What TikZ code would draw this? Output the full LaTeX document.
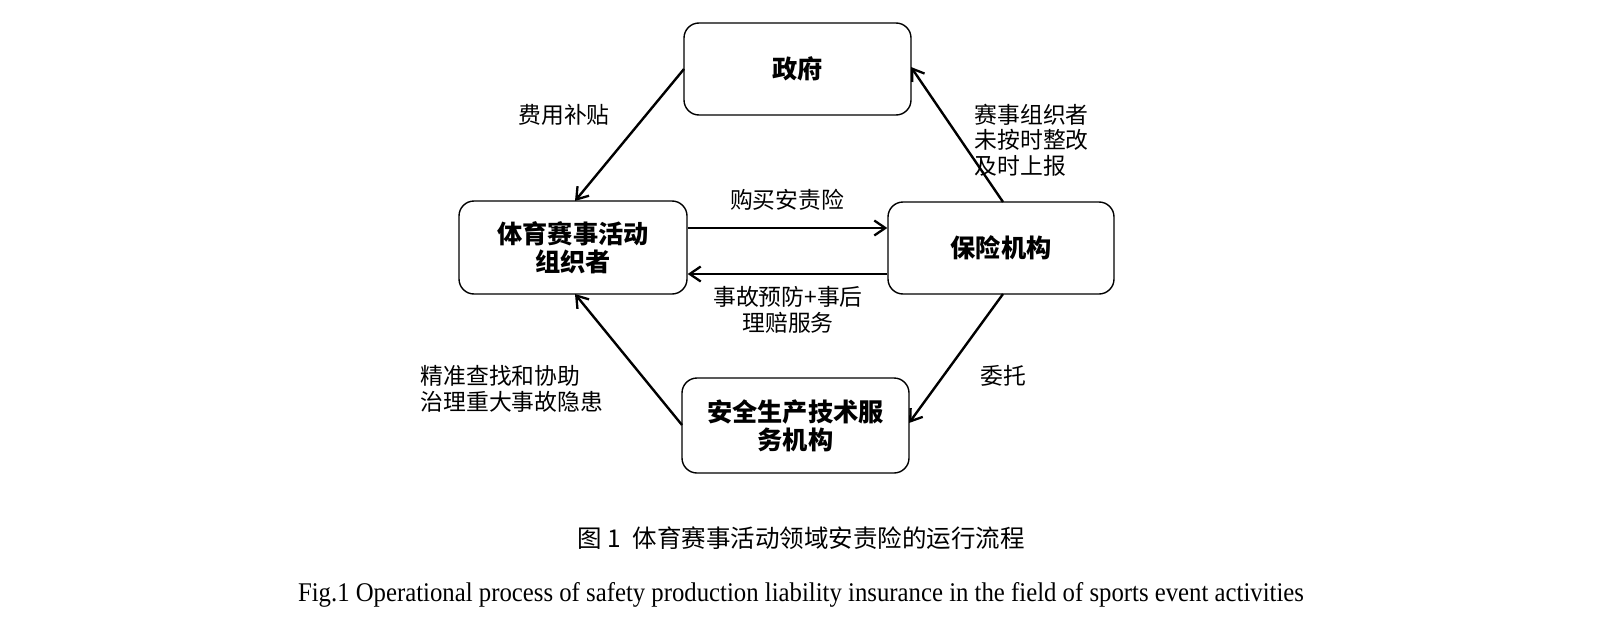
\documentclass[tikz,border=0pt]{standalone}
\usepackage{fontspec}
\setmainfont{Liberation Serif}
\newfontfamily\cjk{Noto Sans CJK SC}
\usetikzlibrary{arrows.meta}
\begin{document}
\begin{tikzpicture}[x=1pt,y=-1pt,
  box/.style={draw, line width=1.4pt, rounded corners=15pt, minimum width=227pt, minimum height=92pt, align=center, font=\cjk\fontsize{25.2}{28}\selectfont\bfseries, inner sep=0pt},
  conn/.style={line width=2.4pt, -{Straight Barb[length=11pt,width=15pt,line width=2.3pt]}},
  lab/.style={font=\cjk\fontsize{22.8}{25.5}\selectfont, inner sep=0pt, align=left}]
\useasboundingbox (0,0) rectangle (1600,634);
\fill[white] (0,0) rectangle (1600,634);
\node[box] (gov) at (797.5,69) {政府};
\node[box, minimum width=228pt, minimum height=93pt] (org) at (573,247.5) {体育赛事活动\\组织者};
\node[box, minimum width=226pt] (ins) at (1001,248) {保险机构};
\node[box, minimum height=95pt] (srv) at (795.5,425.5) {安全生产技术服\\务机构};
\coordinate (govL) at (684,69);
\coordinate (govR) at (911,67);
\coordinate (orgT) at (575,201);
\coordinate (orgB) at (575,294);
\coordinate (insT) at (1003,202);
\coordinate (insB) at (1003,294);
\coordinate (srvL) at (682,425);
\coordinate (srvR) at (909,423);
\draw[conn] (govL) -- (orgT);
\draw[conn] (insT) -- (govR);
\draw[conn] (org.east |- 0,228) -- (ins.west |- 0,228);
\draw[conn] (ins.west |- 0,274) -- (org.east |- 0,274);
\draw[conn] (insB) -- (srvR);
\draw[conn] (srvL) -- (orgB);
\node[lab] (l1) at (564,115) {费用补贴};
\node[lab, anchor=west] (l2) at (974.5,140) {赛事组织者\\未按时整改\\及时上报};
\node[lab] (l3) at (787,200) {购买安责险};
\node[lab, align=center] (l4) at (788,310) {事故预防+事后\\理赔服务};
\node[lab] (l5) at (1003,375.5) {委托};
\node[lab, anchor=west] (l6) at (420.5,389) {精准查找和协助\\治理重大事故隐患};
\node[font=\cjk\fontsize{24.5}{28}\selectfont, inner sep=0pt] (cap1) at (801,538) {图 1\enspace 体育赛事活动领域安责险的运行流程};
\node[font=\fontsize{27}{30}\selectfont, inner sep=0pt] (cap2) at (801,595) {\scalebox{0.917}[1]{Fig.1 Operational process of safety production liability insurance in the field of sports event activities}};
\end{tikzpicture}
\end{document}
